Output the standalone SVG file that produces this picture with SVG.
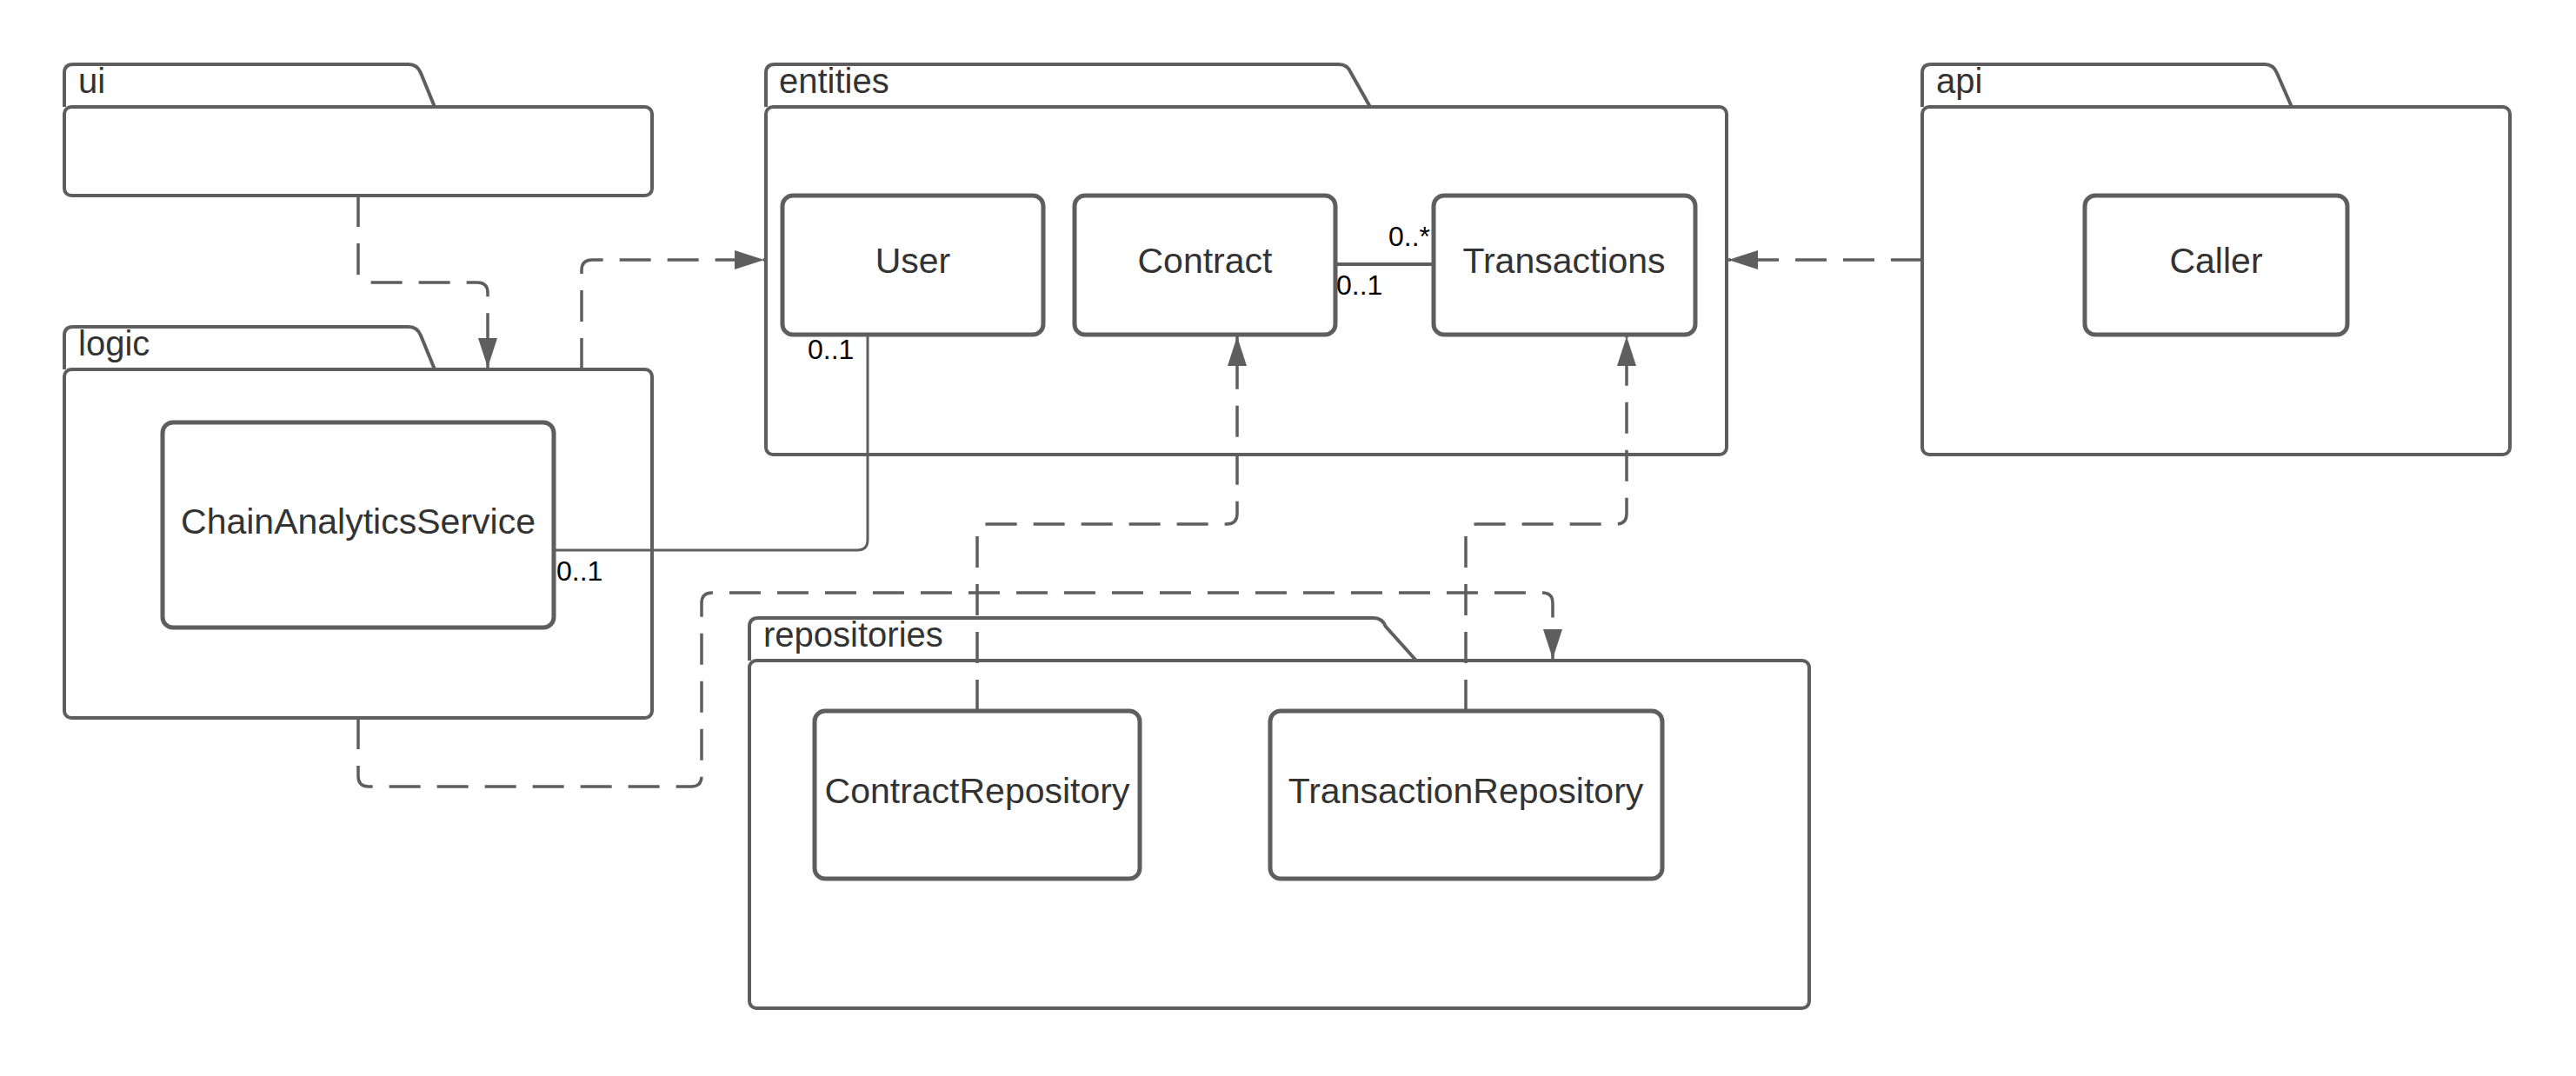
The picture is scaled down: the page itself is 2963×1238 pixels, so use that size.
<svg xmlns="http://www.w3.org/2000/svg" width="2963" height="1238" viewBox="0 0 2963 1238">
  <style>
    .pkg { fill: #ffffff; stroke: #5e5e5e; stroke-width: 4; stroke-linejoin: round; }
    .box { fill: #ffffff; stroke: #5e5e5e; stroke-width: 5; }
    .dep { fill: none; stroke: #5e5e5e; stroke-width: 3.5; stroke-dasharray: 36 19; }
    .assoc { fill: none; stroke: #5e5e5e; stroke-width: 3; }
    .plabel { font-family: "Liberation Sans", Arial, sans-serif; font-size: 40px; fill: #333333; }
    .nlabel { font-family: "Liberation Sans", Arial, sans-serif; font-size: 41px; fill: #333333; text-anchor: middle; }
    .mult { font-family: "Liberation Sans", Arial, sans-serif; font-size: 32px; fill: #000000; }
  </style>
  <defs>
    <marker id="arrow" markerUnits="userSpaceOnUse" markerWidth="36" markerHeight="24" refX="34" refY="11" orient="auto">
      <path d="M0,0 L34,11 L0,22 Z" fill="#5e5e5e"/>
    </marker>
  </defs>
  <rect x="0" y="0" width="2963" height="1238" fill="#ffffff"/>

  <!-- ui package -->
  <g id="pkg-ui">
    <path class="pkg" d="M74,123 V84 Q74,74 84,74 H470 Q480,74 484,84 L500,123"/>
    <rect class="pkg" x="74" y="123" width="676" height="102" rx="8"/>
    <text class="plabel" x="90" y="107">ui</text>
  </g>

  <!-- logic package -->
  <g id="pkg-logic">
    <path class="pkg" d="M74,425 V386 Q74,376 84,376 H470 Q480,376 484,386 L500,425"/>
    <rect class="pkg" x="74" y="425" width="676" height="401" rx="8"/>
    <text class="plabel" x="90" y="409">logic</text>
  </g>
  <g id="node-chainanalyticsservice">
    <rect class="box" x="187" y="486" width="450" height="236" rx="12"/>
    <text class="nlabel" x="412" y="614">ChainAnalyticsService</text>
  </g>

  <!-- entities package -->
  <g id="pkg-entities">
    <path class="pkg" d="M881,123 V84 Q881,74 891,74 H1540 Q1550,74 1554,84 L1576,123"/>
    <rect class="pkg" x="881" y="123" width="1105" height="400" rx="8"/>
    <text class="plabel" x="896" y="107">entities</text>
  </g>
  <g id="node-user">
    <rect class="box" x="900" y="225" width="300" height="160" rx="12"/>
    <text class="nlabel" x="1050" y="314">User</text>
  </g>
  <g id="node-contract">
    <rect class="box" x="1236" y="225" width="300" height="160" rx="12"/>
    <text class="nlabel" x="1386" y="314">Contract</text>
  </g>
  <g id="node-transactions">
    <rect class="box" x="1649" y="225" width="301" height="160" rx="12"/>
    <text class="nlabel" x="1799" y="314">Transactions</text>
  </g>

  <!-- api package -->
  <g id="pkg-api">
    <path class="pkg" d="M2211,123 V84 Q2211,74 2221,74 H2605 Q2615,74 2619,84 L2636,123"/>
    <rect class="pkg" x="2211" y="123" width="676" height="400" rx="8"/>
    <text class="plabel" x="2227" y="107">api</text>
  </g>
  <g id="node-caller">
    <rect class="box" x="2398" y="225" width="302" height="160" rx="12"/>
    <text class="nlabel" x="2549" y="314">Caller</text>
  </g>

  <!-- repositories package -->
  <g id="pkg-repositories">
    <path class="pkg" d="M862,760 V721 Q862,711 872,711 H1580 Q1590,711 1594,721 L1629,760"/>
    <rect class="pkg" x="862" y="760" width="1219" height="400" rx="8"/>
    <text class="plabel" x="878" y="744">repositories</text>
  </g>
  <g id="node-contractrepository">
    <rect class="box" x="937" y="818" width="374" height="193" rx="12"/>
    <text class="nlabel" x="1124" y="924">ContractRepository</text>
  </g>
  <g id="node-transactionrepository">
    <rect class="box" x="1461" y="818" width="451" height="193" rx="12"/>
    <text class="nlabel" x="1686" y="924">TransactionRepository</text>
  </g>

  <!-- connectors -->
  <g id="connectors">
    <path class="dep" d="M412,225 V313 Q412,325 424,325 H549 Q561,325 561,337 V423" marker-end="url(#arrow)"/>
    <path class="dep" d="M669,425 V311 Q669,299 681,299 H879" marker-end="url(#arrow)"/>
    <path class="dep" d="M2211,299 H1988" marker-end="url(#arrow)"/>
    <path class="dep" d="M412,826 V893 Q412,905 424,905 H795 Q807,905 807,893 V694 Q807,682 819,682 H1774 Q1786,682 1786,694 V758" marker-end="url(#arrow)"/>
    <path class="dep" d="M1124,818 V615 Q1124,603 1136,603 H1411 Q1423,603 1423,591 V387" marker-end="url(#arrow)"/>
    <path class="dep" d="M1686,818 V615 Q1686,603 1698,603 H1859 Q1871,603 1871,591 V387" marker-end="url(#arrow)"/>
    <path class="assoc" d="M998,385 V621 Q998,633 986,633 H637"/>
    <path class="assoc" d="M1536,304 H1649" style="stroke-width:4"/>
    <text class="mult" x="929" y="413">0..1</text>
    <text class="mult" x="640" y="668">0..1</text>
    <text class="mult" x="1645" y="283" text-anchor="end">0..*</text>
    <text class="mult" x="1537" y="339">0..1</text>
  </g>
</svg>
